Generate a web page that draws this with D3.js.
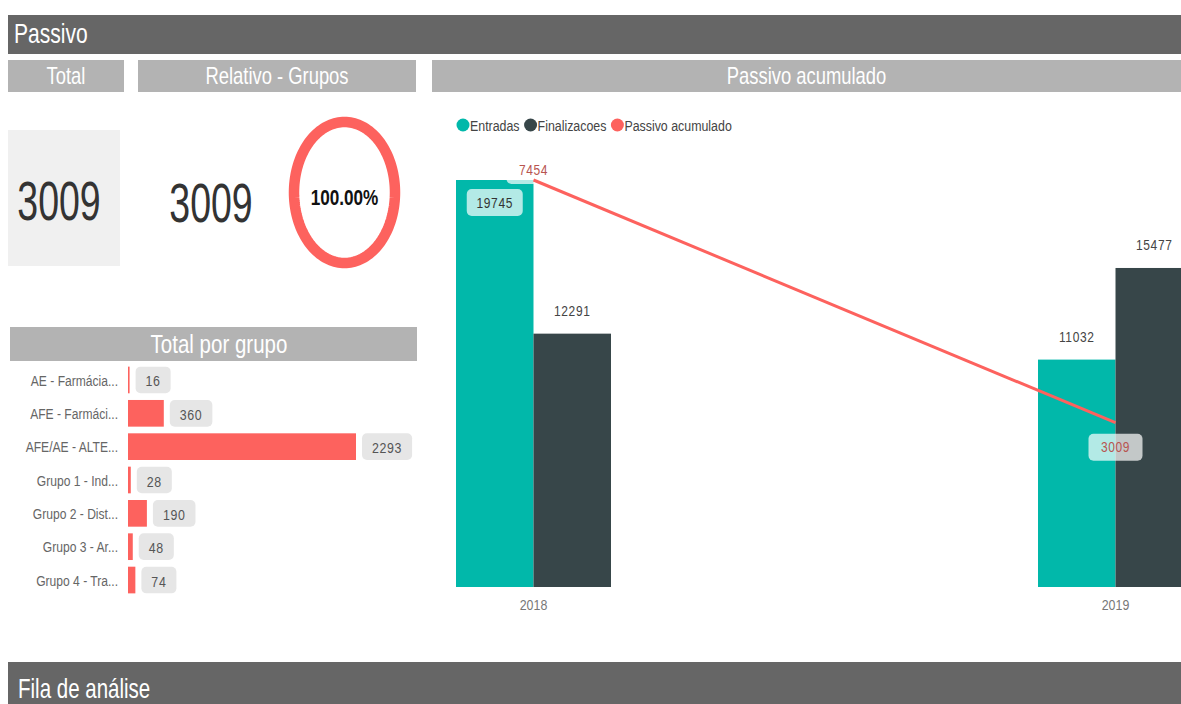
<!DOCTYPE html>
<html><head><meta charset="utf-8">
<script src="https://cdn.jsdelivr.net/npm/d3@7"></script>
<style>
html,body{margin:0;padding:0;background:#fff;overflow:hidden}
svg{display:block}
text{font-family:"Liberation Sans",Arial,sans-serif}
</style></head>
<body><svg id="c" width="1181" height="704"></svg>
<script>
// ---- data ----
const years = ["2018", "2019"];
const entradas = [19745, 11032];
const finalizacoes = [12291, 15477];
const passivoAcumulado = [7454, 3009];
const seriesNames = ["Entradas", "Finalizacoes", "Passivo acumulado"];
const grupos = ["AE - Farmácia...", "AFE - Farmáci...", "AFE/AE - ALTE...", "Grupo 1 - Ind...", "Grupo 2 - Dist...", "Grupo 3 - Ar...", "Grupo 4 - Tra..."];
const grupoValores = [16, 360, 2293, 28, 190, 48, 74];
const totalPassivo = 3009;
const totalGrupos = 3009;
const headers = ["Total", "Relativo - Grupos", "Passivo acumulado"];

const C = {teal:"#01B8AA", dark:"#374649", red:"#FD625E", band:"#666666", panel:"#B3B3B3", lbl:"#B85450"};
const SX = 0.8;
const svg = d3.select("#c");

function txt(parent, x, y, s, size, o = {}) {
  const sx = o.sx || SX;
  const t = parent.append("text").attr("x", 0).attr("y", 0).text(s)
    .attr("transform", `translate(${x},${y}) scale(${sx},1)`)
    .attr("font-size", size).attr("fill", o.fill || "#333")
    .attr("text-anchor", o.anchor || "middle")
    .attr("dominant-baseline", "central");
  if (o.weight) t.attr("font-weight", o.weight);
  if (o.ls) t.attr("letter-spacing", o.ls);
  t.w = t.node().getComputedTextLength() * sx;
  return t;
}

// ---- top band ----
svg.append("rect").attr("x", 8).attr("y", 15).attr("width", 1173).attr("height", 39).attr("fill", C.band);
txt(svg, 14, 34, "Passivo", 27, {fill:"#fff", anchor:"start", sx:0.78});

// ---- header panels ----
const panels = [[8, 116], [138, 278], [432, 749]];
panels.forEach((p, i) => {
  svg.append("rect").attr("x", p[0]).attr("y", 60).attr("width", p[1]).attr("height", 32).attr("fill", C.panel);
  txt(svg, p[0] + p[1] / 2, 76, headers[i], 23, {fill:"#fff"});
});

// ---- KPI cards ----
svg.append("rect").attr("x", 8).attr("y", 130).attr("width", 112).attr("height", 136).attr("fill", "#F0F0F0");
txt(svg, 59, 201, d3.format("d")(totalPassivo), 56, {sx:0.67, fill:"#333"});
txt(svg, 211, 203, d3.format("d")(totalGrupos), 56, {sx:0.67, fill:"#333"});

// ---- donut (elliptical ring) ----
const pie = d3.pie().sort(null)([totalGrupos, totalPassivo - totalGrupos]);
const cx = 344.5, cy = 192.5, rx = 50.5, ry = 70.5;
pie.forEach((d, i) => {
  const span = d.endAngle - d.startAngle;
  if (span <= 0) return;
  const full = span >= 2 * Math.PI - 1e-6;
  const n = 160;
  const pts = d3.range(0, full ? n : n + 1).map(k => {
    const a = d.startAngle + span * k / n;
    return [cx + rx * Math.sin(a), cy - ry * Math.cos(a)];
  });
  const line = d3.line().curve(full ? d3.curveLinearClosed : d3.curveLinear);
  svg.append("path").attr("d", line(pts)).attr("fill", "none")
    .attr("stroke", i === 0 ? C.red : "#ddd").attr("stroke-width", 10.5);
});
txt(svg, cx, 197, d3.format(".2%")(totalGrupos / totalPassivo), 22, {weight:"bold", fill:"#111", sx:0.78});

// ---- Total por grupo ----
svg.append("rect").attr("x", 10).attr("y", 327).attr("width", 407).attr("height", 34).attr("fill", C.panel);
txt(svg, 219, 344, "Total por grupo", 25, {fill:"#fff", sx:0.82});

const gx = d3.scaleLinear().domain([0, d3.max(grupoValores)]).range([128, 356]);
const gy = d3.scaleBand().domain(grupos).range([363.3, 596.7]).paddingInner(0.2).paddingOuter(0.1);
const gBars = svg.append("g"), gBoxes = svg.append("g"), gText = svg.append("g");
grupos.forEach((g, i) => {
  const v = grupoValores[i], yb = gy(g), h = gy.bandwidth(), xe = gx(v);
  gBars.append("rect").attr("x", gx(0)).attr("y", yb).attr("width", xe - gx(0)).attr("height", h).attr("fill", C.red);
  txt(gText, 118, yb + h / 2, g, 15.5, {anchor:"end", fill:"#666", sx:0.78});
  const t = txt(gText, 0, 0, String(v), 15.5, {fill:"#555", ls:0.8});
  const bx = xe + 6, bw = t.w + 20;
  gBoxes.append("rect").attr("x", bx).attr("y", yb).attr("width", bw).attr("height", h)
    .attr("rx", 5).attr("fill", "#E6E6E6");
  t.attr("transform", `translate(${bx + bw / 2},${yb + h / 2 + 1}) scale(${SX},1)`);
});

// ---- combo chart ----
const legColors = [C.teal, C.dark, C.red];
let lx = 463;
seriesNames.forEach((s, i) => {
  svg.append("circle").attr("cx", lx).attr("cy", 125).attr("r", 6.5).attr("fill", legColors[i]);
  const t = txt(svg, lx + 7, 125, s, 15.5, {anchor:"start", fill:"#444"});
  lx += 7 + t.w + 11;
});

const x = d3.scaleBand().domain(years).range([456, 1193]).paddingInner(0.7337).paddingOuter(0);
const xs = d3.scaleBand().domain(["Entradas", "Finalizacoes"]).range([0, x.bandwidth()]);
const y = d3.scaleLinear().domain([0, d3.max([...entradas, ...finalizacoes])]).range([587, 180]);
const y2 = d3.scaleLinear().domain([0, d3.max(passivoAcumulado)]).range([587, 180]);

const chart = svg.append("g");
const labels = svg.append("g");
years.forEach((yr, i) => {
  [["Entradas", entradas[i], C.teal], ["Finalizacoes", finalizacoes[i], C.dark]].forEach(([k, v, col]) => {
    const bx = x(yr) + xs(k), bw = xs.bandwidth(), top = y(v);
    chart.append("rect").attr("x", bx).attr("y", top).attr("width", bw).attr("height", y(0) - top).attr("fill", col);
    if (top - y.range()[1] < 30) {
      labels.append("rect").attr("x", bx + bw / 2 - 28).attr("y", top + 9).attr("width", 56).attr("height", 27)
        .attr("rx", 5).attr("fill", "#fff").attr("fill-opacity", 0.7);
      txt(labels, bx + bw / 2, top + 23, String(v), 15, {fill:"#333", ls:0.8});
    } else {
      txt(labels, bx + bw / 2, top - 23, String(v), 15, {fill:"#444", ls:0.8});
    }
  });
});

// axis labels
const xAxis = svg.append("g").attr("transform", "translate(0,587)")
  .call(d3.axisBottom(x).tickSize(0).tickPadding(12));
xAxis.select(".domain").remove();
xAxis.selectAll("text").attr("font-size", 15.5).attr("fill", "#777")
  .attr("font-family", '"Liberation Sans",Arial,sans-serif')
  .attr("transform", `scale(${SX},1)`);

// line
const pts = years.map((yr, i) => [x(yr) + x.bandwidth() / 2, y2(passivoAcumulado[i])]);
const lineG = svg.append("g");
pts.forEach((p, i) => {
  const above = i === 0;
  const cyL = above ? p[1] - 10 : p[1] + 24;
  lineG.append("rect").attr("x", p[0] - 27).attr("y", cyL - 13).attr("width", 54).attr("height", 27)
    .attr("rx", 5).attr("fill", "#fff").attr("fill-opacity", 0.7);
  txt(lineG, p[0], cyL, String(passivoAcumulado[i]), 15, {fill:C.lbl, ls:0.8});
});
svg.append("path").attr("d", d3.line()(pts)).attr("fill", "none").attr("stroke", C.red).attr("stroke-width", 3);

// ---- bottom band ----
svg.append("rect").attr("x", 8).attr("y", 662).attr("width", 1173).attr("height", 42).attr("fill", C.band);
txt(svg, 18, 688, "Fila de análise", 27, {fill:"#fff", anchor:"start", sx:0.76});
</script></body></html>
